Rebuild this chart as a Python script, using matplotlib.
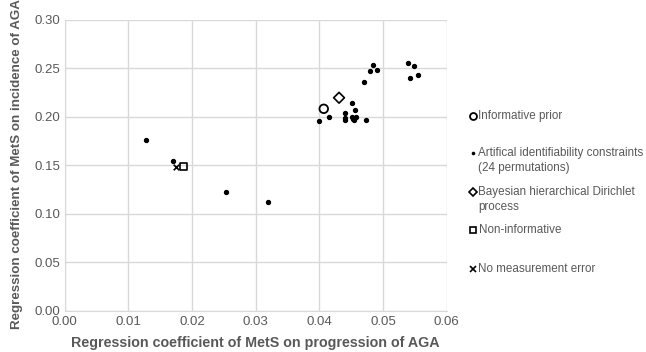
import matplotlib
matplotlib.use("Agg")
import matplotlib.pyplot as plt
from matplotlib.lines import Line2D

plt.rcParams['font.family'] = ['Liberation Sans', 'DejaVu Sans']

# 24 permutations (artificial identifiability constraints)
perm_x = [0.0128, 0.0170, 0.0253, 0.0320,
          0.0399, 0.0415, 0.0451, 0.0456, 0.0440, 0.0441, 0.0441,
          0.0452, 0.0457, 0.0455, 0.0453, 0.0474,
          0.0470, 0.0479, 0.0484, 0.0490,
          0.0539, 0.0549, 0.0542, 0.0555]
perm_y = [0.1758, 0.1540, 0.1220, 0.1116,
          0.1956, 0.1996, 0.2141, 0.2072, 0.2044, 0.1993, 0.1969,
          0.1995, 0.1995, 0.1965, 0.1980, 0.1969,
          0.2358, 0.2472, 0.2534, 0.2482,
          0.2552, 0.2528, 0.2396, 0.2428]

informative = (0.0407, 0.2083)
dirichlet = (0.0431, 0.2197)
noninformative = (0.0187, 0.1486)
no_meas_error = (0.0175, 0.1482)

labels = ["Informative prior",
          "Artifical identifiability constraints\n(24 permutations)",
          "Bayesian hierarchical Dirichlet\nprocess",
          "Non-informative",
          "No measurement error"]

grey = "#595959"
grid_c = "#d9d9d9"

W, H = 646, 352
fig = plt.figure(figsize=(W / 100, H / 100), dpi=100)
ax = fig.add_axes([64.5 / W, 1 - 310.5 / H, (446.7 - 64.5) / W, (310.5 - 20) / H])

ax.scatter(perm_x, perm_y, s=8, color="black", zorder=3)
ax.scatter(*informative, s=38, facecolor="none", edgecolor="black", linewidth=1.3, zorder=3)
ax.scatter(*dirichlet, s=30, marker="D", facecolor="none", edgecolor="black", linewidth=1.2, zorder=3)
ax.scatter(*noninformative, s=24, marker="s", facecolor="none", edgecolor="black", linewidth=1.2, zorder=3)
ax.scatter(*no_meas_error, s=16, marker="x", color="black", linewidth=1.2, zorder=3)

ax.set_xlim(0, 0.06)
ax.set_ylim(0, 0.30)
ax.set_xticks([0, 0.01, 0.02, 0.03, 0.04, 0.05, 0.06])
ax.set_yticks([0, 0.05, 0.10, 0.15, 0.20, 0.25, 0.30])
ax.xaxis.set_major_formatter(plt.FormatStrFormatter("%.2f"))
ax.yaxis.set_major_formatter(plt.FormatStrFormatter("%.2f"))
ax.tick_params(length=0, labelsize=9.5, labelcolor=grey)
ax.tick_params(axis="x", pad=4)
ax.tick_params(axis="y", pad=3)
ax.grid(True, color=grid_c, linewidth=1)
ax.set_axisbelow(True)
for s in ax.spines.values():
    s.set_visible(False)
for side in ("left", "bottom"):
    ax.spines[side].set_visible(True)
    ax.spines[side].set_color(grid_c)

fig.text(255 / W, 1 - 343 / H, "Regression coefficient of MetS on progression of AGA",
         fontsize=10.3, fontweight="bold", color=grey, ha="center", va="center")
fig.text(17 / W, 1 - 164 / H, "Regression coefficient of MetS on incidence of AGA",
         fontsize=9.6, fontweight="bold", color=grey, ha="center", va="center",
         rotation=90)

# legend, placed by hand like the original
handles = [dict(marker="o", ms=5, mfc="none", mew=1.3),
           dict(marker="o", ms=2.6, mfc="black", mew=0),
           dict(marker="D", ms=4, mfc="none", mew=1.2),
           dict(marker="s", ms=4, mfc="none", mew=1.2),
           dict(marker="x", ms=4, mew=1.2)]
label_y = [116, 153, 192, 230, 269]
for h, lab, yy in zip(handles, labels, label_y):
    fig.add_artist(Line2D([473 / W], [1 - yy / H], transform=fig.transFigure,
                          color="black", linestyle="none", **h))
    fig.text(478.5 / W, 1 - (yy - 6) / H, lab, fontsize=8.4, color=grey,
             va="top", ha="left", linespacing=1.3)

fig.savefig("out.png", dpi=100)
